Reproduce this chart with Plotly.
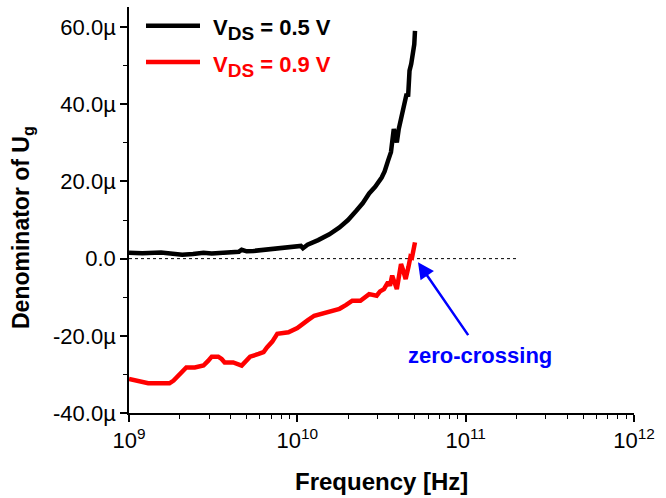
import math
import plotly.graph_objects as go

# V_DS = 0.5 V: frequency [Hz] and denominator of U_g [µ]
freq_05 = [1.0e9, 1.2e9, 1.55e9, 1.8e9, 2.07e9, 2.4e9, 2.77e9, 3.1e9, 3.5e9, 4.0e9,
           4.5e9, 4.67e9, 5.0e9, 5.5e9, 6.2e9, 7.0e9, 7.9e9, 9.0e9, 1.0e10, 1.05e10,
           1.08e10, 1.15e10, 1.33e10, 1.55e10, 1.78e10, 2.0e10, 2.24e10, 2.45e10, 2.67e10, 2.75e10,
           2.9e10, 3.17e10, 3.3e10, 3.46e10, 3.6e10, 3.74e10, 3.82e10, 3.9e10, 4.0e10, 4.13e10,
           4.3e10, 4.46e10, 4.55e10, 4.64e10, 4.75e10, 4.9e10, 4.95e10, 5.0e10]
denom_05 = [1.5, 1.4, 1.6, 1.3, 1.0, 1.2, 1.5, 1.3, 1.4, 1.6,
            1.8, 2.3, 1.9, 2.0, 2.2, 2.4, 2.8, 2.8, 3.0, 3.3,
            2.7, 3.6, 4.8, 6.3, 8.1, 10.0, 12.4, 14.4, 16.9, 17.4,
            18.6, 21.0, 22.6, 25.4, 27.6, 33.6, 31.0, 30.1, 33.5, 36.6,
            40.0, 42.7, 42.0, 48.7, 50.5, 54.7, 55.5, 59.0]

# V_DS = 0.9 V
freq_09 = [1.0e9, 1.15e9, 1.3e9, 1.5e9, 1.74e9, 1.84e9, 2.0e9, 2.19e9, 2.46e9, 2.77e9,
           2.95e9, 3.1e9, 3.39e9, 3.55e9, 3.7e9, 4.16e9, 4.67e9, 5.0e9, 5.24e9, 5.89e9,
           6.3e9, 6.6e9, 7.1e9, 7.6e9, 8.85e9, 1.0e10, 1.05e10, 1.15e10, 1.26e10, 1.49e10,
           1.78e10, 1.95e10, 2.12e10, 2.37e10, 2.67e10, 2.96e10, 3.1e10, 3.27e10, 3.46e10, 3.55e10,
           3.66e10, 3.9e10, 4.0e10, 4.13e10, 4.25e10, 4.4e10, 4.57e10, 4.7e10, 4.8e10, 4.9e10,
           5.0e10]
denom_09 = [-31.2, -31.8, -32.3, -32.3, -32.3, -31.6, -30.0, -28.2, -28.2, -27.7,
            -26.5, -25.4, -25.4, -26.0, -26.9, -26.9, -27.7, -26.3, -25.4, -24.7,
            -24.2, -23.0, -21.5, -19.5, -19.1, -18.0, -17.4, -16.0, -14.8, -13.9,
            -13.0, -12.0, -10.9, -10.9, -9.2, -9.6, -8.5, -7.9, -6.1, -7.0,
            -4.4, -7.9, -5.0, -1.4, -3.0, -5.3, -2.2, 0.5, 0.3, 2.1,
            4.2]

# dotted zero reference
zero_ref_freq = [1.0e9, 2.07e11]
zero_ref_val = [0.0, 0.0]

# axis ticks
x_tickvals = [1e9, 1e10, 1e11, 1e12]
x_ticktext = ["10<sup>9</sup>", "10<sup>10</sup>", "10<sup>11</sup>", "10<sup>12</sup>"]
y_tickvals = [-40, -20, 0, 20, 40, 60]
y_ticktext = ["-40.0µ", "-20.0µ", "0.0", "20.0µ", "40.0µ", "60.0µ"]
series_labels = ["V<sub>DS</sub> = 0.5 V", "V<sub>DS</sub> = 0.9 V"]
series_colors = ["#000000", "#ff0000"]

# zero-crossing annotation: arrow tip / tail and label (frequency, value)
arrow_tip = (5.21e10, -0.95)
arrow_tail = (1.05e11, -20.2)
label_pos = (1.22e11, -25.1)

FONT = "Liberation Sans, Arial, sans-serif"
L, R, T, B = 129, 32, 7, 85
W, H = 666, 498
pw, ph = W - L - R, H - T - B


def px_to_paper(px, py):
    return (px - L) / pw, (H - B - py) / ph


fig = go.Figure()
fig.add_trace(go.Scatter(x=zero_ref_freq, y=zero_ref_val, mode="lines",
                         line=dict(color="#000000", width=1, dash="dot"),
                         showlegend=False, hoverinfo="skip"))
fig.add_trace(go.Scatter(x=freq_09, y=denom_09, mode="lines", name="V_DS = 0.9 V",
                         line=dict(color=series_colors[1], width=4.5), showlegend=False))
fig.add_trace(go.Scatter(x=freq_05, y=denom_05, mode="lines", name="V_DS = 0.5 V",
                         line=dict(color=series_colors[0], width=4.5), showlegend=False))

annotations = []
shapes = []
# hand-drawn legend
for i, (lab, col) in enumerate(zip(series_labels, series_colors)):
    ly = [25.7, 62][i]
    x0, yp = px_to_paper(146, ly)
    x1, _ = px_to_paper(200, ly)
    shapes.append(dict(type="line", xref="paper", yref="paper", x0=x0, x1=x1, y0=yp, y1=yp,
                       line=dict(color=col, width=4.5)))
    tx, ty = px_to_paper(211, ly + 4)
    annotations.append(dict(xref="paper", yref="paper", x=tx, y=ty, xanchor="left", yanchor="middle",
                            text="<b>" + lab.replace("<sub>", "<sub><span style='font-size:19px'>")
                            .replace("</sub>", "</span></sub>") + "</b>",
                            showarrow=False, font=dict(family=FONT, size=22, color=col)))

annotations.append(dict(x=math.log10(arrow_tip[0]), y=arrow_tip[1], xref="x", yref="y",
                        ax=math.log10(arrow_tail[0]), ay=arrow_tail[1], axref="x", ayref="y",
                        showarrow=True, arrowhead=2, arrowsize=1.3, arrowwidth=2.5,
                        arrowcolor="#0000ff", text=""))
annotations.append(dict(x=math.log10(label_pos[0]), y=label_pos[1], xref="x", yref="y",
                        text="<b>zero-crossing</b>", showarrow=False,
                        font=dict(family=FONT, size=22, color="#0000ff")))

# axis titles
ax_, ay_ = px_to_paper(22.5, 227.5)
annotations.append(dict(xref="paper", yref="paper", x=ax_, y=ay_, textangle=-90,
                        xanchor="center", yanchor="middle", showarrow=False,
                        text="<b>Denominator of U<sub>g</sub></b>",
                        font=dict(family=FONT, size=23, color="#000000")))
bx, by = px_to_paper(381, 481)
annotations.append(dict(xref="paper", yref="paper", x=bx, y=by,
                        xanchor="center", yanchor="middle", showarrow=False,
                        text="<b>Frequency [Hz]</b>",
                        font=dict(family=FONT, size=24, color="#000000")))

fig.update_layout(
    width=W, height=H,
    margin=dict(l=L, r=R, t=T, b=B),
    paper_bgcolor="white", plot_bgcolor="white",
    font=dict(family=FONT, size=22, color="#000000"),
    shapes=shapes, annotations=annotations,
    xaxis=dict(type="log", range=[9, 12], tickvals=x_tickvals, ticktext=x_ticktext,
               showgrid=False, zeroline=False, showline=True, linecolor="#000000", linewidth=1.5,
               ticks="outside", ticklen=7, tickwidth=1.5, tickcolor="#000000",
               minor=dict(ticks="outside", ticklen=4, tickwidth=1.2, tickcolor="#000000", dtick="D1"),
               tickfont=dict(family=FONT, size=22)),
    yaxis=dict(range=[-40, 65.2], tickvals=y_tickvals, ticktext=y_ticktext,
               showgrid=False, zeroline=False, showline=True, linecolor="#000000", linewidth=1.5,
               ticks="outside", ticklen=7, tickwidth=1.5, tickcolor="#000000",
               minor=dict(ticks="outside", ticklen=4, tickwidth=1.2, tickcolor="#000000", dtick=10),
               tickfont=dict(family=FONT, size=22)),
)

fig.write_html("out.html")
